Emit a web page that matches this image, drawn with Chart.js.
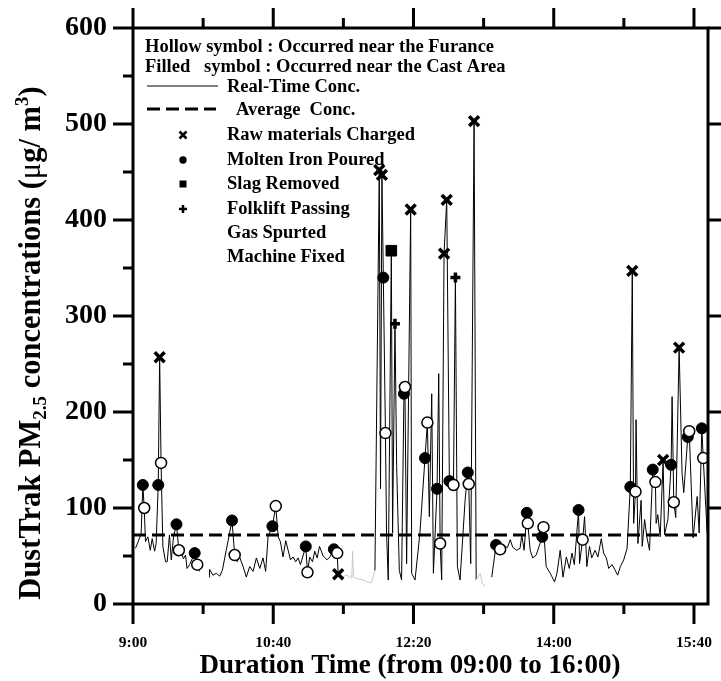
<!DOCTYPE html>
<html>
<head>
<meta charset="utf-8">
<script src="https://cdn.jsdelivr.net/npm/chart.js@4.4.0/dist/chart.umd.min.js"></script>
<style>
  html, body { margin: 0; padding: 0; background: #fff; }
  #wrap { width: 721px; height: 681px; }
</style>
</head>
<body>
<div id="wrap"><canvas id="chart" width="721" height="681"></canvas></div>
<script>
// minutes after 09:00 and real-time PM2.5 reading (ug/m3); null = no record
const timeMin = [1.8, 5.8, 7, 8, 8.9, 10.6, 12.3, 13.7, 15.4, 16.5, 18, 19, 20, 21.3, 23.2, 24.4, 26, 27.3, 28.9,
  31, 32.7, 34.4, 36, 37.5, 38.5, 40.4, 44, 45.8, 47.5, 50, 54.2, 54.6, 57, 59.4, 61.8, 63.7, 66.5, 70.6, 72.5,
  74.2, 76, 78.5, 80.8, 83.2, 85.6, 88, 90.4, 92.7, 94.6, 96.3, 99.4, 101.8, 103.5, 105.1, 107, 108.9, 110.6,
  112.3, 114.2, 116, 117.7, 119.4, 123.2, 124.4, 126, 128, 129.6, 131.3, 133, 135.6, 138.4, 140.4, 143.2, 145.6,
  146.3, 149, 152.3, 156, 156.6, 157.2, 161, 164.2, 167, 170.1, 172.5, 175.6, 176.5, 177.5, 178.5, 180, 180.8,
  182, 184.2, 185.1, 186.8, 188, 189.9, 191.5, 193.2, 193.9, 195.1, 198, 198.7, 201.1, 204.6, 208.2, 209.9,
  211.3, 213, 214.2, 216.8, 218, 219, 220.1, 221.8, 223.7, 225.6, 228.5, 229.9, 231.3, 233.2, 236.8, 238.7,
  239.4, 240.8, 243.2, 244.7, 247.6, 249, 251, 253, 255.8, 258.9, 261.8, 264.2, 267, 269, 270.8, 273.6, 276,
  277.2, 278.9, 280.8, 281.5, 283.2, 285, 287.5, 291.8, 292.7, 294.6, 297.5, 300.6, 302.3, 304.6, 306.6, 309,
  311.1, 313, 314.7, 317.7, 318.4, 320.6, 322, 323.6, 325.5, 327.1, 329.5, 331.5, 333.9, 335.6, 337.5, 339.2,
  341.6, 343.5, 345.6, 347.5, 349.9, 352.3, 354.6, 356, 357, 358.3, 358.7, 360, 362.3, 363.1, 364.8, 366.4,
  368.3, 370.6, 372.5, 373, 374.2, 375.9, 378, 379, 381.4, 383.7, 384.4, 385.6, 387, 389.4, 391.5, 392.7,
  395.6, 396.6, 399.4, 402.3, 403.7, 405.6, 406.6, 409.4];
const pm25 = [58, 73, 124, 100, 65, 70, 56, 68, 55, 63, 124, 257, 147, 60, 44, 44, 72, 46, 70,
  83, 56, 54, 47, 51, 37, 41, 53, 41, 34, null, 28, 36, 30, 32, 29, 35, 56, 87, 51,
  44, 49, 39, 28, 39, 34, 48, 37, 48, 34, 70, 81, 102, 70, 65, 49, 66, 56,
  46, 49, 44, 48, 41, 60, 33, 49, 44, 55, 48, 60, 50, 46, 49, 57, 53,
  31, 28, 30, 27, 55, 28, 26, 25, 23, 22, 35, 452, 120, 447, 340, 178, 74,
  25, 368, 74, 292, 143, 35, 25, 219, 226, 42, 411, 32, 25, 74, 152, 189,
  91, 219, 32, 120, 240, 63, 25, 365, 421, 128, 124, 340, 39, 25, 108, 137,
  125, 42, 503, 25, 32, 22, 18, null, 28, 61.5, 57, 60, 59, 67, 59, 56, 58,
  72, 56, 95, 84, 56, 48, 51, 70, 80, 39, 32, 23, 32, 56, 28, 49,
  37, 53, 41, 98, 42, 67, 91, 39, 60, 48, 56, 49, 68, 53, 48, 37,
  41, 36, 30, 39, 46, 58, 122, 347, 84, 117, 192, 63, 108, 60, 88, 70,
  56, 140, 127, 84, 93, 70, 150, 72, 88, 145, 216, 106, 90, 267, 136, 116,
  174, 180, 69, 112, 74, 183, 152, 74];
const avgConc = 72;
// stretches where the printed trace is very faint
const faintSpans = [[146.3, 172.5], [244.7, 255.8]];

// event markers: filled = near the cast area, hollow = near the furnace
const chargedTime = [19, 146.3, 175.6, 177.5, 198, 221.8, 223.7, 243.2, 356, 378, 389.4];
const chargedConc = [257, 31, 452, 447, 411, 365, 421, 503, 347, 150, 267];
const pouredCastTime = [7, 18, 31, 44, 70.6, 99.4, 123.2, 143.2, 178.5, 193.2, 208.2, 216.8, 225.6, 238.7,
  258.9, 280.8, 291.8, 317.7, 354.6, 370.6, 383.7, 395.6, 405.6];
const pouredCastConc = [124, 124, 83, 53, 87, 81, 60, 57, 340, 219, 152, 120, 128, 137,
  61.5, 95, 70, 98, 122, 140, 145, 174, 183];
const pouredFurnaceTime = [8, 20, 32.7, 45.8, 72.5, 101.8, 124.4, 145.6, 180, 193.9, 209.9, 219, 228.5, 239.4,
  261.8, 281.5, 292.7, 320.6, 358.3, 372.5, 385.6, 396.6, 406.6];
const pouredFurnaceConc = [100, 147, 56, 41, 51, 102, 33, 53, 178, 226, 189, 63, 124, 125,
  57, 84, 80, 67, 117, 127, 106, 180, 152];
const slagTime = [184.2];
const slagConc = [368];
const forkliftTime = [186.8, 229.9];
const forkliftConc = [292, 340];

const xTickLabels = ['9:00', '10:40', '12:20', '14:00', '15:40'];
const yTickLabels = ['0', '100', '200', '300', '400', '500', '600'];

const SERIF = "'Liberation Serif', 'Times New Roman', serif";

const pts = (xs, ys) => xs.map((x, i) => ({ x: x, y: ys[i] }));

// draw a small legend symbol
function symbol(ctx, kind, x, y, r) {
  ctx.save();
  ctx.fillStyle = '#000';
  ctx.strokeStyle = '#000';
  ctx.beginPath();
  if (kind === 'x') {
    ctx.lineWidth = 2.5;
    ctx.moveTo(x - r, y - r); ctx.lineTo(x + r, y + r);
    ctx.moveTo(x + r, y - r); ctx.lineTo(x - r, y + r);
    ctx.stroke();
  } else if (kind === 'dot') {
    ctx.arc(x, y, r, 0, Math.PI * 2);
    ctx.fill();
  } else if (kind === 'square') {
    ctx.fillRect(x - r, y - r, 2 * r, 2 * r);
  } else if (kind === 'plus') {
    ctx.lineWidth = 2.5;
    ctx.moveTo(x - r, y); ctx.lineTo(x + r, y);
    ctx.moveTo(x, y - r); ctx.lineTo(x, y + r);
    ctx.stroke();
  }
  ctx.restore();
}

const legendBox = {
  id: 'legendBox',
  afterDraw(chart) {
    const ctx = chart.ctx;
    ctx.save();
    ctx.fillStyle = '#000';
    ctx.textBaseline = 'alphabetic';
    ctx.font = 'bold 18.5px ' + SERIF;
    ctx.fillText('Hollow symbol : Occurred near the Furance', 145, 52);
    ctx.fillText('Filled   symbol : Occurred near the Cast Area', 145, 72);
    ctx.fillText('Real-Time Conc.', 227, 92);
    ctx.fillText('Average  Conc.', 236, 115);
    ctx.fillText('Raw materials Charged', 227, 140);
    ctx.fillText('Molten Iron Poured', 227, 165);
    ctx.fillText('Slag Removed', 227, 189);
    ctx.fillText('Folklift Passing', 227, 214);
    ctx.fillText('Gas Spurted', 227, 238);
    ctx.fillText('Machine Fixed', 227, 262);

    ctx.strokeStyle = '#000';
    ctx.lineWidth = 1;
    ctx.beginPath();
    ctx.moveTo(147, 86); ctx.lineTo(218, 86);
    ctx.stroke();
    ctx.lineWidth = 3;
    ctx.setLineDash([13, 6]);
    ctx.beginPath();
    ctx.moveTo(147, 109); ctx.lineTo(216, 109);
    ctx.stroke();
    ctx.setLineDash([]);

    symbol(ctx, 'x', 183, 135, 3.5);
    symbol(ctx, 'dot', 183, 160, 3.7);
    symbol(ctx, 'square', 183, 184, 3.5);
    symbol(ctx, 'plus', 183, 209, 4);

    // axis titles
    ctx.font = 'bold 27px ' + SERIF;
    ctx.textAlign = 'center';
    ctx.fillText('Duration Time (from 09:00 to 16:00)', 410, 673);

    const parts = [
      { t: 'DustTrak PM', size: 30.5, dy: 0, w: 'bold' },
      { t: '2.5', size: 19, dy: 6, w: 'bold' },
      { t: ' concentrations (', size: 30.5, dy: 0, w: 'bold' },
      { t: '\u03bc', size: 30.5, dy: 0, w: 'normal' },
      { t: 'g/ m', size: 30.5, dy: 0, w: 'bold' },
      { t: '3', size: 19, dy: -12, w: 'bold' },
      { t: ')', size: 30.5, dy: 0, w: 'bold' }
    ];
    let total = 0;
    parts.forEach(p => {
      ctx.font = p.w + ' ' + p.size + 'px ' + SERIF;
      p.width = ctx.measureText(p.t).width;
      total += p.width;
    });
    ctx.translate(40, 343);
    ctx.rotate(-Math.PI / 2);
    ctx.textAlign = 'left';
    let cx = -total / 2;
    parts.forEach(p => {
      ctx.font = p.w + ' ' + p.size + 'px ' + SERIF;
      ctx.fillText(p.t, cx, p.dy);
      cx += p.width;
    });
    ctx.restore();
  }
};

const frameTicks = {
  id: 'frameTicks',
  afterDatasetsDraw(chart) {
    const { ctx, chartArea: a, scales } = chart;
    ctx.save();
    ctx.strokeStyle = '#000';
    ctx.lineWidth = 3;
    ctx.strokeRect(a.left, a.top, a.right - a.left, a.bottom - a.top);
    ctx.beginPath();
    for (let v = 0; v <= (xTickLabels.length - 1) * 100; v += 50) {
      const px = scales.x.getPixelForValue(v);
      const len = v % 100 === 0 ? 20 : 10;
      ctx.moveTo(px, a.bottom); ctx.lineTo(px, a.bottom + len);
      ctx.moveTo(px, a.top); ctx.lineTo(px, a.top - len);
    }
    for (let v = 0; v <= 600; v += 50) {
      const py = scales.y.getPixelForValue(v);
      const len = v % 100 === 0 ? 20 : 10;
      ctx.moveTo(a.left, py); ctx.lineTo(a.left - len, py);
      if (v % 100 === 0 && v > 0) { ctx.moveTo(a.right, py); ctx.lineTo(a.right + 13, py); }
    }
    ctx.stroke();
    ctx.restore();
  }
};

// fix the axis box sizes so the plot area sits where the original has it
function fixBox(w, h) {
  return s => {
    if (w !== null) s.width = w;
    if (h !== null) s.height = h;
    s.paddingLeft = 0; s.paddingRight = 0; s.paddingTop = 0; s.paddingBottom = 0;
  };
}

const isFaint = (a, b) => faintSpans.some(s => a >= s[0] && b <= s[1]);

const ctx = document.getElementById('chart').getContext('2d');
new Chart(ctx, {
  type: 'line',
  data: {
    datasets: [
      {
        data: pts(pouredFurnaceTime, pouredFurnaceConc),
        showLine: false, order: 1,
        pointStyle: 'circle', pointRadius: 5.5,
        pointBackgroundColor: '#fff', pointBorderColor: '#000', pointBorderWidth: 1.5
      },
      {
        data: pts(pouredCastTime, pouredCastConc),
        showLine: false, order: 2,
        pointStyle: 'circle', pointRadius: 5.5,
        pointBackgroundColor: '#000', pointBorderColor: '#000', pointBorderWidth: 1
      },
      {
        data: pts(chargedTime, chargedConc),
        showLine: false, order: 3,
        pointStyle: 'crossRot', pointRadius: 7,
        pointBorderColor: '#000', pointBorderWidth: 3.5
      },
      {
        data: pts(slagTime, slagConc),
        showLine: false, order: 3,
        pointStyle: 'rect', pointRadius: 7.5,
        pointBackgroundColor: '#000', pointBorderColor: '#000', pointBorderWidth: 1
      },
      {
        data: pts(forkliftTime, forkliftConc),
        showLine: false, order: 3,
        pointStyle: 'cross', pointRadius: 5,
        pointBorderColor: '#000', pointBorderWidth: 3.5
      },
      {
        data: [{ x: 0, y: avgConc }, { x: 406, y: avgConc }],
        order: 4,
        borderColor: '#000', borderWidth: 3, borderDash: [13, 6],
        pointRadius: 0
      },
      {
        data: pts(timeMin, pm25),
        order: 5,
        borderColor: '#000', borderWidth: 1,
        pointRadius: 0, tension: 0, spanGaps: false,
        segment: {
          borderColor: c => (isFaint(c.p0.parsed.x, c.p1.parsed.x) ? '#c8c8c8' : undefined)
        }
      }
    ]
  },
  options: {
    responsive: false,
    animation: false,
    events: [],
    layout: { padding: 0 },
    plugins: {
      legend: { display: false },
      tooltip: { enabled: false }
    },
    scales: {
      x: {
        type: 'linear', position: 'bottom',
        min: 0, max: 410,
        grid: { display: false, drawTicks: false },
        border: { display: false },
        ticks: {
          stepSize: 50, autoSkip: false, maxRotation: 0, includeBounds: false,
          padding: 30, color: '#000',
          font: { family: SERIF, size: 15.5, weight: 'bold' },
          callback: v => (v % 100 === 0 ? xTickLabels[v / 100] : '')
        },
        afterFit: fixBox(null, 77)
      },
      xTop: {
        type: 'linear', position: 'top', min: 0, max: 410,
        grid: { display: false, drawTicks: false },
        border: { display: false },
        ticks: { display: false },
        afterFit: fixBox(null, 28)
      },
      y: {
        type: 'linear', position: 'left',
        min: 0, max: 600,
        grid: { display: false, drawTicks: false },
        border: { display: false },
        ticks: {
          stepSize: 50, autoSkip: false, padding: 26, color: '#000',
          font: { family: SERIF, size: 28, weight: 'bold' },
          callback: v => (v % 100 === 0 ? yTickLabels[v / 100] : '')
        },
        afterFit: fixBox(133, null)
      },
      yRight: {
        type: 'linear', position: 'right', min: 0, max: 600,
        grid: { display: false, drawTicks: false },
        border: { display: false },
        ticks: { display: false },
        afterFit: fixBox(13, null)
      }
    }
  },
  plugins: [frameTicks, legendBox]
});
</script>
</body>
</html>
